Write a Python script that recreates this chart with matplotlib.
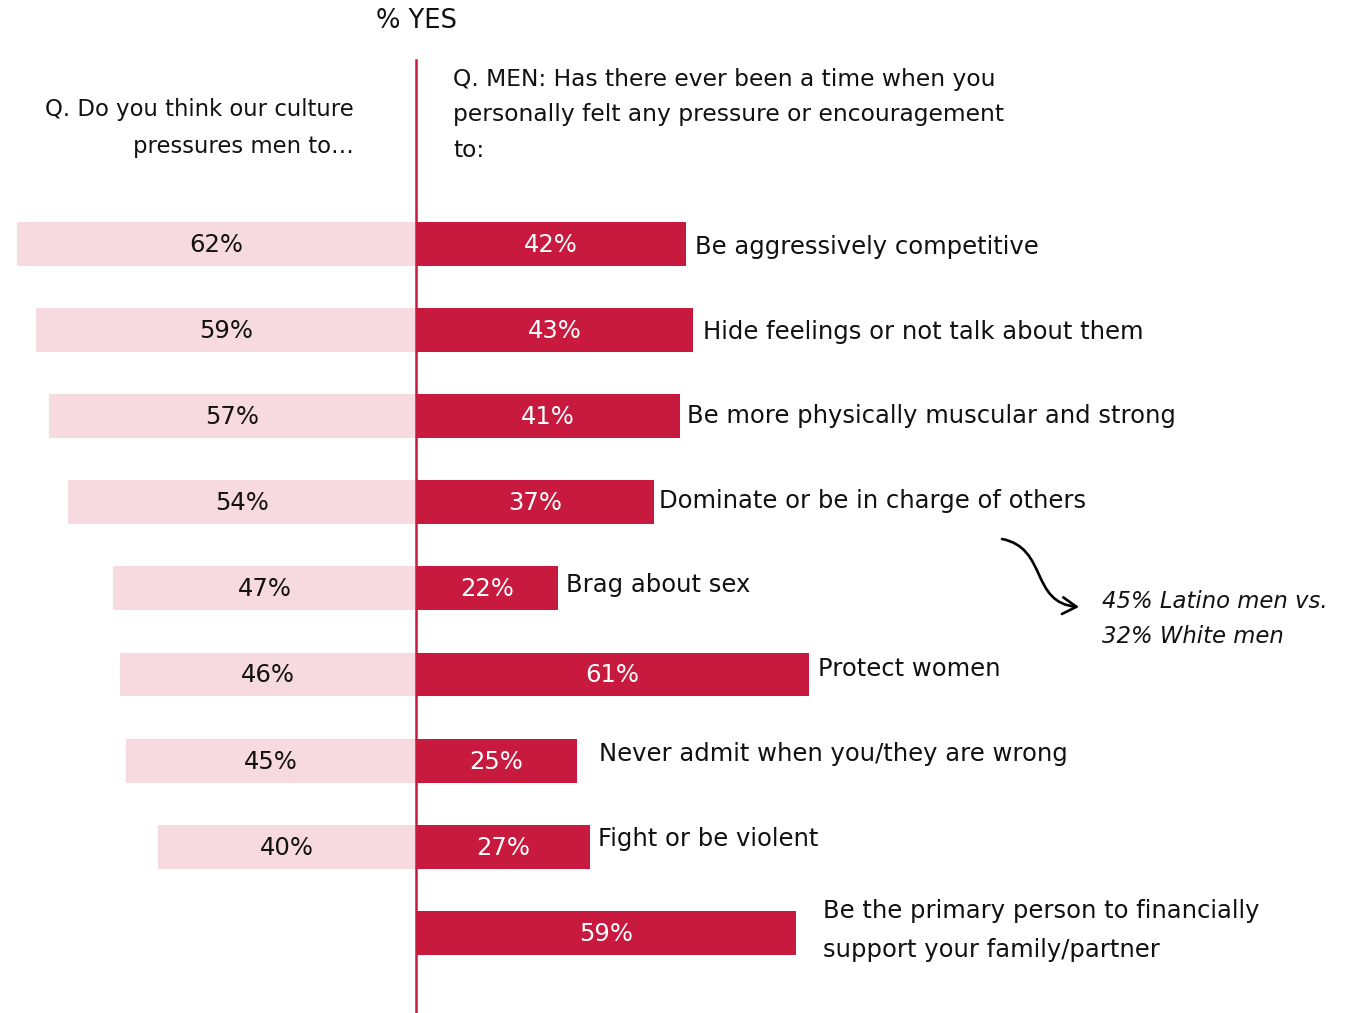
import numpy as np
import matplotlib
matplotlib.use("Agg")
import matplotlib.pyplot as plt
from matplotlib.path import Path
from matplotlib.patches import FancyArrowPatch

categories = [
    "Be aggressively competitive",
    "Hide feelings or not talk about them",
    "Be more physically muscular and strong",
    "Dominate or be in charge of others",
    "Brag about sex",
    "Protect women",
    "Never admit when you/they are wrong",
    "Fight or be violent",
    "Be the primary person to financially\nsupport your family/partner",
]
culture_pct = [62, 59, 57, 54, 47, 46, 45, 40]
personal_pct = [42, 43, 41, 37, 22, 61, 25, 27, 59]

# layout helpers (pixel geometry of the reference)
W, H = 1355, 1013
X0, PX = 416, 6.44        # centre line pixel, pixels per percent
Y0, PY = 244, 86.1        # first bar centre pixel, pixels per row

def dx(px):
    return (px - X0) / PX

def dy(py):
    return (py - Y0) / PY

label_gap_px = [9, 10, 7, 5, 8, 9, 22, 8, 27]
label_dy_px = [3, 2, 0, -1, -3, -5, -7, -8, -2]

RED = "#C8193F"
PINK = "#F6DADF"
FONT = ["DejaVu Sans"]
INK = "#111111"

fig = plt.figure(figsize=(W / 100, H / 100), dpi=100)
ax = fig.add_axes([0, 0, 1, 1])
ax.set_xlim(dx(0), dx(W))
ax.set_ylim(dy(H), dy(0))
ax.axis("off")

y = np.arange(len(categories))
ax.barh(y[:len(culture_pct)], [-v for v in culture_pct], height=0.51, color=PINK, zorder=1)
ax.barh(y, personal_pct, height=0.51, color=RED, zorder=2)
ax.axvline(0, ymin=0, ymax=(H - 60) / H, color=RED, lw=1.8, zorder=3)

for i, v in enumerate(culture_pct):
    ax.text(-v / 2, i + 1 / PY, f"{v}%", ha="center", va="center", fontsize=17.5,
            color=INK, family=FONT)
for i, v in enumerate(personal_pct):
    ax.text(v / 2, i + 1 / PY, f"{v}%", ha="center", va="center", fontsize=17.5,
            color="white", family=FONT)
    ax.text(v + label_gap_px[i] / PX, i + label_dy_px[i] / PY, categories[i],
            ha="left", va="center", fontsize=17.5, color=INK, family=FONT,
            linespacing=1.8)

ax.text(dx(416), dy(21), "% YES", ha="center", va="center", fontsize=18.5,
        color=INK, family=FONT)
ax.text(dx(354), dy(128), "Q. Do you think our culture\npressures men to\u2026",
        ha="right", va="center", fontsize=16.4, color=INK, family=FONT,
        linespacing=1.75)
ax.text(dx(453), dy(115),
        "Q. MEN: Has there ever been a time when you\npersonally felt any pressure or encouragement\nto:",
        ha="left", va="center", fontsize=16.8, color=INK, family=FONT,
        linespacing=1.72)

ax.text(dx(1102), dy(619), "45% Latino men vs.\n32% White men", ha="left",
        va="center", fontsize=16.4, style="italic", color=INK, family=FONT,
        linespacing=1.7)

verts = [(dx(1002), dy(539)), (dx(1048), dy(548)), (dx(1030), dy(603)), (dx(1079), dy(607))]
path = Path(verts, [Path.MOVETO, Path.CURVE4, Path.CURVE4, Path.CURVE4])
arrow = FancyArrowPatch(path=path, arrowstyle="->,head_length=10,head_width=6",
                        color="black", lw=1.9, transform=ax.transData)
ax.add_patch(arrow)

fig.savefig("out.png", dpi=100)
